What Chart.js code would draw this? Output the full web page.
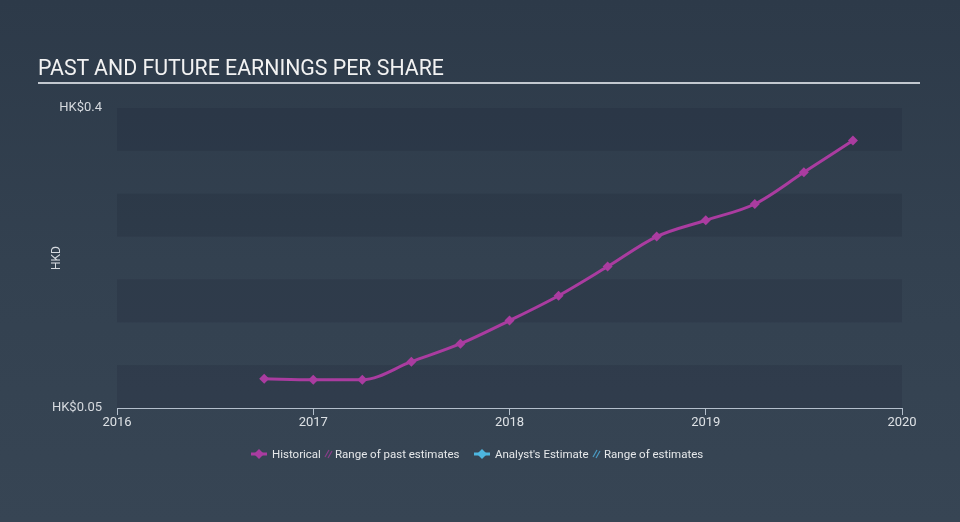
<!DOCTYPE html>
<html>
<head>
<meta charset="utf-8">
<script src="https://cdn.jsdelivr.net/npm/chart.js@4/dist/chart.umd.min.js"></script>
<style>
  html, body { margin: 0; padding: 0; }
  #wrap { position: relative; width: 960px; height: 522px; overflow: hidden;
    background: linear-gradient(to bottom, #2d3a49 0%, #334150 50%, #374554 100%);
    font-family: Roboto, "Open Sans", sans-serif; }
  #c { position: absolute; left: 0; top: 0; }
  #title { position: absolute; left: 38px; top: 55px; width: 882px; color: #f2f2f2;
    font-size: 21.3px; line-height: 26px; padding-bottom: 1px; border-bottom: 2px solid #c2c8cf; }
  .lg { position: absolute; top: 446px; height: 16px; line-height: 16px; color: #e6e8ea;
    font-size: 11.5px; white-space: nowrap; }
  .lg svg { display: block; }
</style>
</head>
<body>
<div id="wrap">
  <canvas id="c" width="960" height="522"></canvas>
  <div id="title">PAST AND FUTURE EARNINGS PER SHARE</div>
  <div class="lg" style="left:251px"><svg width="16" height="16"><line x1="0" y1="8" x2="16" y2="8" stroke="#aa3ca0" stroke-width="3"/><polygon points="8,3 13,8 8,13 3,8" fill="#aa3ca0"/></svg></div>
  <div class="lg" style="left:272px">Historical</div>
  <div class="lg" style="left:324px"><svg width="9" height="16"><line x1="1" y1="11" x2="5" y2="4" stroke="#8a3d8a" stroke-width="1.2"/><line x1="4" y1="12" x2="8" y2="5" stroke="#8a3d8a" stroke-width="1.2"/></svg></div>
  <div class="lg" style="left:335px">Range of past estimates</div>
  <div class="lg" style="left:474px"><svg width="16" height="16"><line x1="0" y1="8" x2="16" y2="8" stroke="#4db6e0" stroke-width="3"/><polygon points="8,3 13,8 8,13 3,8" fill="#4db6e0"/></svg></div>
  <div class="lg" style="left:495px">Analyst's Estimate</div>
  <div class="lg" style="left:592px"><svg width="9" height="16"><line x1="1" y1="11" x2="5" y2="4" stroke="#4a9cc4" stroke-width="1.2"/><line x1="4" y1="12" x2="8" y2="5" stroke="#4a9cc4" stroke-width="1.2"/></svg></div>
  <div class="lg" style="left:604px">Range of estimates</div>
</div>
<script>
// ---- data ----
const periods = [2016.75, 2017.0, 2017.25, 2017.5, 2017.75, 2018.0, 2018.25, 2018.5, 2018.75, 2019.0, 2019.25, 2019.5, 2019.75];
const epsHistorical = [0.084, 0.083, 0.083, 0.104, 0.125, 0.152, 0.181, 0.215, 0.250, 0.269, 0.288, 0.325, 0.362];
const yearTicks = [2016, 2017, 2018, 2019, 2020];
const yTickValues = [0.05, 0.4];
const bandStarts = [0.05, 0.15, 0.25, 0.35];
const bandSize = 0.05;

const points = periods.map((p, i) => ({ x: p, y: epsHistorical[i] }));

const bandPlugin = {
  id: 'bands',
  beforeDatasetsDraw(chart) {
    const { ctx, chartArea } = chart;
    const y = chart.scales.y;
    ctx.save();
    ctx.fillStyle = 'rgba(22,32,45,0.17)';
    bandStarts.forEach(b => {
      const top = y.getPixelForValue(b + bandSize);
      const bot = y.getPixelForValue(b);
      ctx.fillRect(chartArea.left, top, chartArea.right - chartArea.left, bot - top);
    });
    ctx.restore();
  }
};

new Chart(document.getElementById('c'), {
  type: 'line',
  data: {
    datasets: [{
      label: 'Historical',
      data: points,
      borderColor: '#aa3ca0',
      backgroundColor: '#aa3ca0',
      borderWidth: 3,
      pointStyle: 'rectRot',
      pointRadius: 5,
      pointHoverRadius: 5,
      pointBorderWidth: 0,
      cubicInterpolationMode: 'monotone',
      fill: false
    }]
  },
  options: {
    responsive: false,
    animation: false,
    devicePixelRatio: 1,
    layout: { padding: { left: 0, right: 58, top: 108, bottom: 0 } },
    plugins: { legend: { display: false }, tooltip: { enabled: false }, title: { display: false } },
    scales: {
      x: {
        type: 'linear',
        min: 2016, max: 2020,
        afterBuildTicks: s => { s.ticks = yearTicks.map(v => ({ value: v })); },
        afterFit: s => { s.height = 114; },
        ticks: { color: '#dde1e5', font: { family: 'Roboto', size: 13 }, padding: 0,
                 callback: v => String(v), maxRotation: 0 },
        grid: { drawOnChartArea: false, drawTicks: true, tickLength: 7, color: '#b4bfcc', lineWidth: 1 },
        border: { display: true, color: '#b4bfcc', width: 1 }
      },
      y: {
        min: 0.05, max: 0.4,
        afterBuildTicks: s => { s.ticks = yTickValues.map(v => ({ value: v })); },
        afterFit: s => { s.width = 117; },
        ticks: { color: '#d6dadf', font: { family: 'Roboto', size: 13 }, padding: 15,
                 callback: v => 'HK$' + v },
        grid: { display: false, drawTicks: false },
        border: { display: false },
        title: { display: true, text: 'HKD', color: '#d6dadf', font: { family: 'Roboto', size: 12 },
                 padding: { top: 50, bottom: 0 } }
      }
    }
  },
  plugins: [bandPlugin]
});
</script>
</body>
</html>
